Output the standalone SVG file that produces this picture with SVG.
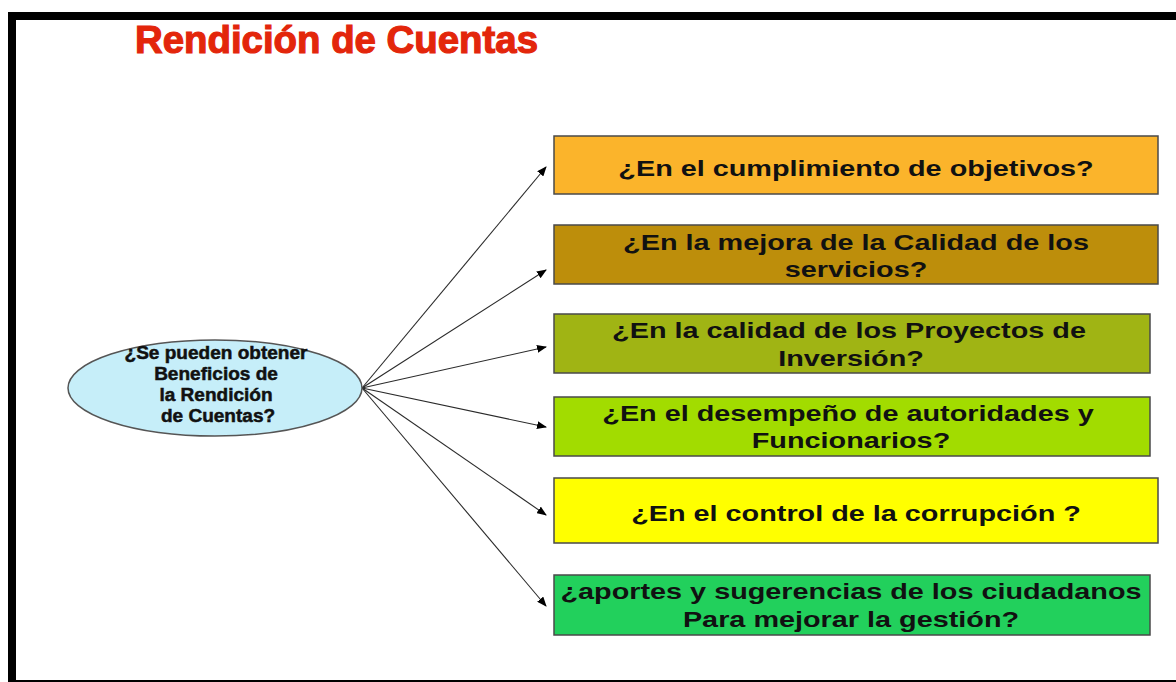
<svg xmlns="http://www.w3.org/2000/svg" width="1176" height="682" viewBox="0 0 1176 682">
<style>
.box{stroke:#4a4a4a;stroke-width:1.5}
.bt{font-family:"Liberation Sans",Arial,sans-serif;font-weight:bold;font-size:22px;fill:#111;text-anchor:middle}
.et{font-family:"Liberation Sans",Arial,sans-serif;font-weight:bold;font-size:18.5px;fill:#111;stroke:#111;stroke-width:0.5;text-anchor:middle}
.conn{stroke:#2a2a2a;stroke-width:1.1;fill:none;marker-end:url(#ah)}
</style>
<defs>
<marker id="ah" markerUnits="userSpaceOnUse" markerWidth="10" markerHeight="8" refX="9" refY="4" orient="auto">
<path d="M0,0 L10,4 L0,8 Z" fill="#000"/>
</marker>
</defs>
<rect x="0" y="0" width="1176" height="682" fill="#fff"/>
<g id="frame">
<rect x="8" y="12" width="1168" height="8" fill="#000"/>
<rect x="8" y="12" width="8" height="670" fill="#000"/>
<rect x="8" y="680" width="1168" height="2" fill="#000"/>
</g>
<g id="title">
<text x="135" y="53" font-family="Liberation Sans,Arial,sans-serif" font-weight="bold" font-size="39" fill="#e3260b" stroke="#e3260b" stroke-width="1.2" textLength="403" lengthAdjust="spacingAndGlyphs">Rendición de Cuentas</text>
</g>
<g id="connectors">
<line class="conn" x1="362" y1="388" x2="546" y2="167"/>
<line class="conn" x1="362" y1="388" x2="546" y2="270"/>
<line class="conn" x1="362" y1="388" x2="546" y2="347"/>
<line class="conn" x1="362" y1="388" x2="546" y2="427"/>
<line class="conn" x1="362" y1="388" x2="546" y2="515"/>
<line class="conn" x1="362" y1="388" x2="546" y2="606"/>
</g>
<g id="center">
<ellipse cx="215" cy="388" rx="147" ry="48" fill="#c6eef9" stroke="#555" stroke-width="1.5"/>
<text class="et" transform="translate(216,359) scale(1.03,1.04)">¿Se pueden obtener</text>
<text class="et" transform="translate(216,380) scale(1.03,1.04)">Beneficios de</text>
<text class="et" transform="translate(216,401) scale(1.03,1.04)">la Rendición</text>
<text class="et" transform="translate(218,422) scale(1.03,1.04)">de Cuentas?</text>
</g>
<g id="n1">
<rect class="box" x="554" y="136" width="604" height="58" fill="#fbb42b"/>
<text class="bt" transform="translate(856,176) scale(1.31,1)">¿En el cumplimiento de objetivos?</text>
</g>
<g id="n2">
<rect class="box" x="554" y="225" width="604" height="59" fill="#bd8e0b"/>
<text class="bt" transform="translate(856,250) scale(1.31,1)">¿En la mejora de la Calidad de los</text>
<text class="bt" transform="translate(856,277) scale(1.31,1)">servicios?</text>
</g>
<g id="n3">
<rect class="box" x="554" y="314" width="596" height="59" fill="#a0b414"/>
<text class="bt" transform="translate(849,338) scale(1.31,1)">¿En la calidad de los Proyectos de</text>
<text class="bt" transform="translate(851,366) scale(1.31,1)">Inversión?</text>
</g>
<g id="n4">
<rect class="box" x="554" y="397" width="596" height="59" fill="#a2dc00"/>
<text class="bt" transform="translate(848,421) scale(1.31,1)">¿En el desempeño de autoridades y</text>
<text class="bt" transform="translate(851,448) scale(1.31,1)">Funcionarios?</text>
</g>
<g id="n5">
<rect class="box" x="554" y="478" width="604" height="65" fill="#ffff00"/>
<text class="bt" transform="translate(856,521) scale(1.31,1)">¿En el control de la corrupción ?</text>
</g>
<g id="n6">
<rect class="box" x="554" y="575" width="596" height="60" fill="#22d05c"/>
<text class="bt" transform="translate(851,599) scale(1.31,1)">¿aportes y sugerencias de los ciudadanos</text>
<text class="bt" transform="translate(851,627) scale(1.31,1)">Para mejorar la gestión?</text>
</g>
</svg>
